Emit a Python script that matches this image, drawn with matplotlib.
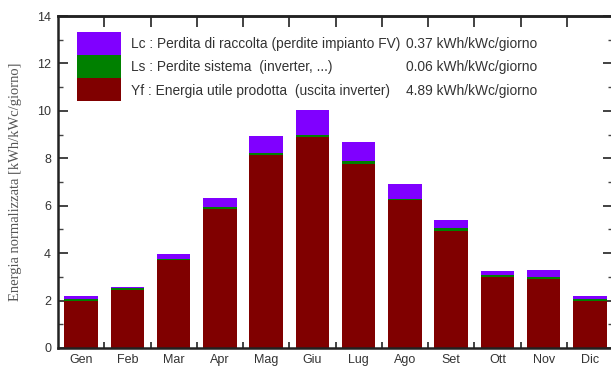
import matplotlib
matplotlib.use("Agg")
import matplotlib.pyplot as plt
from matplotlib.patches import Rectangle
import numpy as np

months = ['Gen', 'Feb', 'Mar', 'Apr', 'Mag', 'Giu', 'Lug', 'Ago', 'Set', 'Ott', 'Nov', 'Dic']
yf = [2.00, 2.46, 3.70, 5.88, 8.13, 8.88, 7.78, 6.23, 4.95, 3.01, 2.93, 1.98]
ls = [0.05, 0.05, 0.07, 0.07, 0.10, 0.12, 0.11, 0.07, 0.09, 0.08, 0.07, 0.07]
lc = [0.13, 0.08, 0.18, 0.39, 0.71, 1.03, 0.80, 0.62, 0.37, 0.16, 0.31, 0.14]

legend_labels = ['Lc : Perdita di raccolta (perdite impianto FV)',
                 'Ls : Perdite sistema  (inverter, ...)',
                 'Yf : Energia utile prodotta  (uscita inverter)']
legend_values = ['0.37 kWh/kWc/giorno', '0.06 kWh/kWc/giorno', '4.89 kWh/kWc/giorno']

c_lc, c_ls, c_yf = '#8000ff', '#008000', '#800000'

W, H = 611, 367
fig = plt.figure(figsize=(W / 100, H / 100), dpi=100)
ax = fig.add_axes([58 / W, 1 - 348 / H, (613 - 58) / W, (348 - 16) / H])

x = np.arange(len(months))
yf_a, ls_a, lc_a = np.array(yf), np.array(ls), np.array(lc)
bw = 0.72
ax.bar(x, yf_a, bw, color=c_yf, edgecolor='none', zorder=2)
ax.bar(x, ls_a, bw, bottom=yf_a, color=c_ls, edgecolor='none', zorder=2)
ax.bar(x, lc_a, bw, bottom=yf_a + ls_a, color=c_lc, edgecolor='none', zorder=2)

ax.set_xlim(-0.5, 11.5)
ax.set_ylim(0, 14)

ax.set_xticks(x)
ax.set_xticklabels(months, fontfamily='Liberation Sans', fontsize=9, color='#333333')
ax.set_xticks(np.arange(0.5, 11, 1), minor=True)
ax.tick_params(axis='x', which='major', length=0, pad=4)
ax.tick_params(axis='x', which='minor', direction='in', length=4.5, width=1.2,
               bottom=True, top=False, color='#222222')

ax.set_yticks(np.arange(0, 15, 2))
ax.set_yticks(np.arange(1, 14, 2), minor=True)
ax.set_yticklabels([str(v) for v in range(0, 15, 2)], fontfamily='Liberation Sans',
                   fontsize=9, color='#333333')
ax.tick_params(axis='y', which='major', direction='in', length=7, width=1.2,
               left=True, right=True, pad=5, color='#222222')
ax.tick_params(axis='y', which='minor', direction='in', length=3.5, width=1.0,
               left=True, right=True, color='#444444')

sec = ax.secondary_xaxis('top')
sec.set_xticks(np.arange(0.5, 11, 1))
sec.set_xticklabels([])
sec.tick_params(direction='in', length=8, width=1.2, color='#222222')
sec.spines['top'].set_linewidth(1.8)
sec.spines['top'].set_color('#222222')

for s in ax.spines.values():
    s.set_linewidth(1.8)
    s.set_color('#222222')

ax.set_ylabel('Energia normalizzata [kWh/kWc/giorno]', fontfamily='Liberation Serif',
              fontsize=10.5, color='#555555', labelpad=11)

# legend drawn in pixel coordinates
def fx(px):
    return px / W

def fy(py):
    return 1 - py / H

colors = [c_lc, c_ls, c_yf]
row_tops = [32, 55, 78.3]
row_h = 22.5
for i, col in enumerate(colors):
    fig.add_artist(Rectangle((fx(77), fy(row_tops[i] + row_h)), 44 / W, row_h / H,
                             facecolor=col, edgecolor='none', transform=fig.transFigure))
    yc = fy(row_tops[i] + row_h / 2 + 1)
    fig.text(fx(131), yc, legend_labels[i], fontfamily='Liberation Sans', fontsize=9.9,
             color='#333333', va='center', ha='left')
    fig.text(fx(406), yc, legend_values[i], fontfamily='Liberation Sans', fontsize=9.9,
             color='#333333', va='center', ha='left')

fig.savefig('out.png', dpi=100)
